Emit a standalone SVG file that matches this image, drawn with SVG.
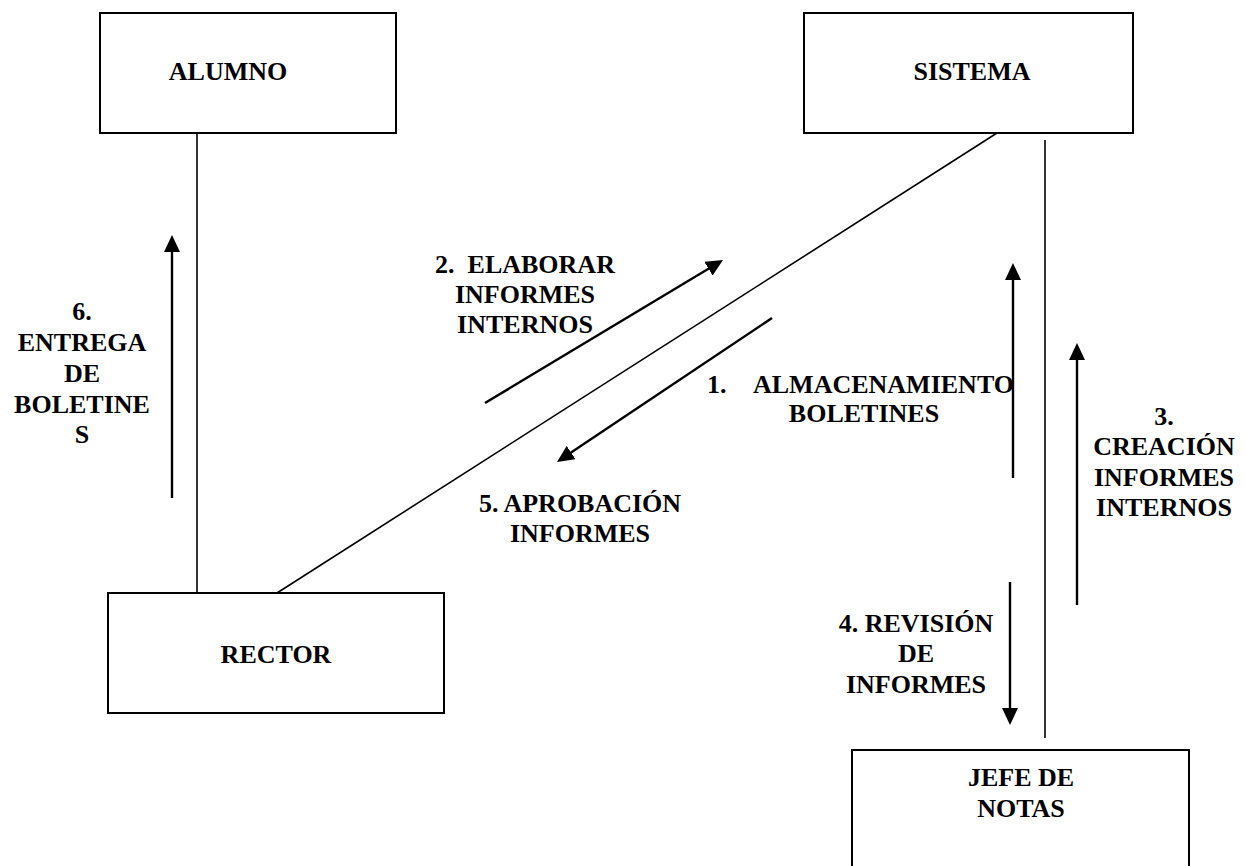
<svg xmlns="http://www.w3.org/2000/svg" width="1245" height="866" viewBox="0 0 1245 866">
  <style>
    .box { fill: #ffffff; stroke: #000000; stroke-width: 2; }
    .link { stroke: #000000; stroke-width: 1.6; fill: none; }
    .flow { stroke: #000000; stroke-width: 2.4; fill: none; marker-end: url(#head); }
    text { font-family: "Liberation Serif", "Times New Roman", serif; font-weight: bold; font-size: 26px; fill: #000000; }
    .c { text-anchor: middle; }
  </style>
  <defs>
    <marker id="head" markerUnits="userSpaceOnUse" markerWidth="18" markerHeight="16" refX="1" refY="8" orient="auto">
      <path d="M0,0 L17,8 L0,16 z" fill="#000000"/>
    </marker>
  </defs>

  <rect width="1245" height="866" fill="#ffffff"/>

  <!-- plain links between the actors -->
  <g id="connectors">
    <line class="link" x1="197" y1="133" x2="197" y2="592"/>
    <line class="link" x1="997" y1="133" x2="277" y2="593"/>
    <line class="link" x1="1045" y1="140" x2="1045" y2="738"/>

    <!-- message arrows -->
    <line class="flow" x1="172" y1="498" x2="172" y2="251"/>
    <line class="flow" x1="485" y1="403" x2="709.3" y2="268.2"/>
    <line class="flow" x1="772" y1="318" x2="570.3" y2="453.1"/>
    <line class="flow" x1="1013" y1="478" x2="1013" y2="279"/>
    <line class="flow" x1="1077" y1="605" x2="1077" y2="359"/>
    <line class="flow" x1="1010" y1="582" x2="1010" y2="709"/>
  </g>

  <g id="alumno">
    <rect class="box" x="100" y="13" width="296" height="120"/>
    <text class="c" x="228" y="80">ALUMNO</text>
  </g>

  <g id="sistema">
    <rect class="box" x="804" y="13" width="329" height="120"/>
    <text class="c" x="972" y="80">SISTEMA</text>
  </g>

  <g id="rector">
    <rect class="box" x="108" y="593" width="336" height="120"/>
    <text class="c" x="276" y="663">RECTOR</text>
  </g>

  <g id="jefe-de-notas">
    <rect class="box" x="852" y="750" width="337" height="130"/>
    <text class="c" x="1021" y="786">JEFE DE</text>
    <text class="c" x="1021" y="817">NOTAS</text>
  </g>

  <!-- message labels -->
  <g id="labels">
    <text class="c"><tspan x="82" y="320">6.</tspan><tspan x="82" y="351">ENTREGA</tspan><tspan x="82" y="382">DE</tspan><tspan x="82" y="413">BOLETINE</tspan><tspan x="82" y="443">S</tspan></text>
    <text class="c"><tspan x="525" y="273" xml:space="preserve">2.  ELABORAR</tspan><tspan x="525" y="303">INFORMES</tspan><tspan x="525" y="333">INTERNOS</tspan></text>
    <text x="707" y="393">1.</text>
    <text x="753" y="393">ALMACENAMIENTO</text>
    <text class="c" x="864" y="422">BOLETINES</text>
    <text class="c"><tspan x="580" y="512">5. APROBACIÓN</tspan><tspan x="580" y="542">INFORMES</tspan></text>
    <text class="c"><tspan x="1164" y="425">3.</tspan><tspan x="1164" y="455">CREACIÓN</tspan><tspan x="1164" y="486">INFORMES</tspan><tspan x="1164" y="516">INTERNOS</tspan></text>
    <text class="c"><tspan x="916" y="632">4. REVISIÓN</tspan><tspan x="916" y="662">DE</tspan><tspan x="916" y="693">INFORMES</tspan></text>
  </g>
</svg>
